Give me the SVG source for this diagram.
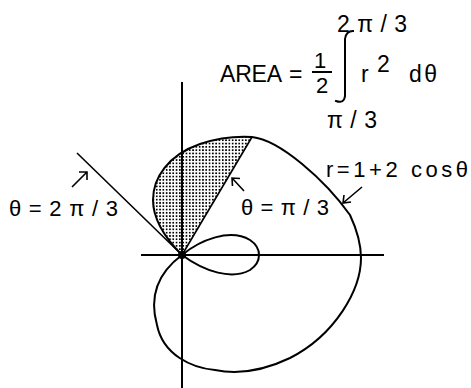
<svg xmlns="http://www.w3.org/2000/svg" width="471" height="388" viewBox="0 0 471 388">
<style>
.t{font-family:"Liberation Sans","DejaVu Sans",sans-serif;font-size:22px;fill:#000}
.f{font-size:23px}
.ln{fill:none;stroke:#000;stroke-width:2;stroke-linecap:square}
.thin{fill:none;stroke:#000;stroke-width:1.6}
</style>
<defs>
<pattern id="dots" width="3.3" height="3.3" patternUnits="userSpaceOnUse">
<rect x="0.8" y="0.8" width="1.7" height="1.7" fill="#000"/>
</pattern>
</defs>
<rect width="471" height="388" fill="#fff"/>
<g id="shading">
<path d="M182,255 C168,241 153,222 153,200 C153,178 168,155 200,144 C215,139 235,136 252,137 Z" fill="url(#dots)"/>
</g>
<g id="axes">
<path class="ln" d="M142,255 H383"/>
<path class="ln" d="M182,83 V388"/>
</g>
<g id="rays">
<path class="thin" d="M77,153 L182,255"/>
<path class="thin" d="M182,255 L252,137"/>
</g>
<g id="curve">
<path class="ln" d="M182,255 C168,241 153,222 153,200 C153,178 168,155 200,144 C215,139 235,136 252,137 C280,140 325,180 350,215 C357,230 361,245 361,258 C361,290 335,335 290,358 C265,370 240,375 215,370 C192,368 163,355 157,325 C150,300 155,275 182,255 Z"/>
<path class="ln" d="M182,255 C200,240 230,228 250,240 C262,248 262,262 250,270 C232,280 205,272 182,255 Z"/>
<circle cx="182" cy="255" r="4" fill="#000"/>
</g>
<g id="formula">
<text class="t f" x="220" y="82" textLength="62" lengthAdjust="spacing">AREA</text>
<text class="t f" x="289" y="82">=</text>
<text class="t" x="320" y="68" text-anchor="middle">1</text>
<path class="ln" d="M313,72 H331"/>
<text class="t" x="322" y="93" text-anchor="middle">2</text>
<path class="ln" d="M353,31 Q346,31 345,39 V96 Q344,104 336,101"/>
<text class="t f" x="337" y="32" textLength="70" lengthAdjust="spacing">2π/3</text>
<text class="t f" x="327" y="128" textLength="50" lengthAdjust="spacing">π/3</text>
<text class="t f" x="361" y="82">r</text>
<text class="t f" x="377" y="72">2</text>
<text class="t f" x="409" y="82" textLength="28" lengthAdjust="spacing">dθ</text>
</g>
<g id="labels">
<text class="t" x="9" y="216" textLength="109" lengthAdjust="spacing">θ=2π/3</text>
<text class="t" x="241" y="215" textLength="88" lengthAdjust="spacing">θ=π/3</text>
<text class="t" x="326" y="177" textLength="142" lengthAdjust="spacing">r=1+2 cosθ</text>
</g>
<g id="arrows">
<path class="thin" d="M72,187 L87,172 M79,172 H87 V180"/>
<path class="thin" d="M244,191 L232,178 M240,178.5 L232,178 L232.5,186"/>
<path class="thin" d="M362,187 L343,203 M344,195 L343,203 L351,202"/>
</g>
</svg>
